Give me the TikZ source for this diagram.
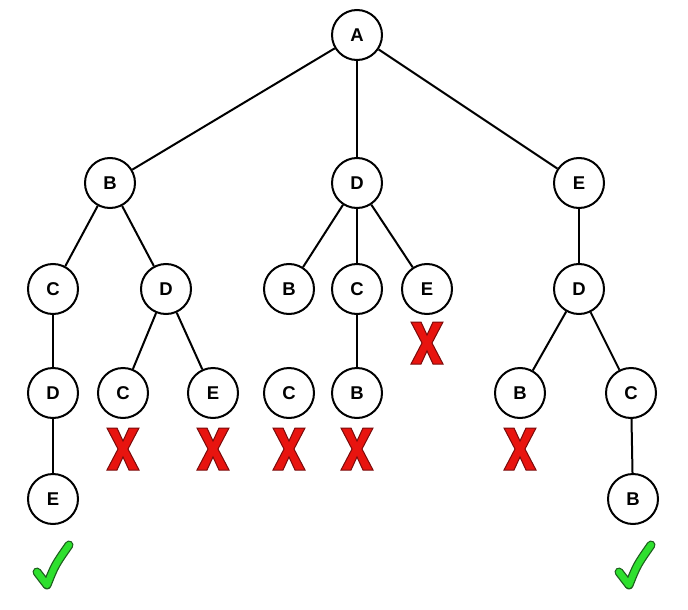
\documentclass[tikz,border=0pt]{standalone}
\usepackage{fontspec}
\setmainfont{Liberation Sans}
\definecolor{xred}{HTML}{E8140F}
\definecolor{xdark}{HTML}{7A0A0A}
\definecolor{okgreen}{HTML}{2EE02E}
\definecolor{okdark}{HTML}{1D5E1D}
\usetikzlibrary{positioning}

\begin{document}
\begin{tikzpicture}[
  x=1pt, y=-1pt,
  state/.style={
    draw=black, line width=2pt, circle, fill=white,
    minimum size=50pt, inner sep=0pt,
    font=\fontsize{18.5}{18.5}\selectfont\bfseries,
  },
  edge/.style={draw=black, line width=2pt},
  badmark/.pic={
    \filldraw[fill=xred, draw=xdark, line width=1pt]
      (-16,-21) -- (-6,-21) -- (0,-8) -- (6,-21) -- (16,-21) -- (5,0)
      -- (16,21) -- (6,21) -- (0,8) -- (-6,21) -- (-16,21) -- (-5,0) -- cycle;
  },
  goodmark/.pic={
    \draw[okdark, line width=9pt, line cap=round, line join=round]
      (-15,7) -- (-5,20) .. controls (3,0) .. (17,-20);
    \draw[okgreen, line width=6.5pt, line cap=round, line join=round]
      (-15,7) -- (-5,20) .. controls (3,0) .. (17,-20);
  },
]
\useasboundingbox (0,0) rectangle (688,610);

% level 0
\node[state] (nA) at (357,35) {A};

% level 1
\node[state] (nAB) at (110,183) {B};
\node[state] (nAD) at (357,183) {D};
\node[state] (nAE) at (579,183) {E};

% level 2
\node[state] (nABC) at (53,289)  {C};
\node[state] (nABD) at (166,289) {D};
\node[state] (nADB) at (289,289) {B};
\node[state] (nADC) at (357,289) {C};
\node[state] (nADE) at (427,289) {E};
\node[state] (nAED) at (579,289) {D};

% level 3
\node[state] (nABCD) at (53,393)  {D};
\node[state] (nABDC) at (123,393) {C};
\node[state] (nABDE) at (213,393) {E};
\node[state] (nADBC) at (289,393) {C};
\node[state] (nADCB) at (357,393) {B};
\node[state] (nAEDB) at (520,393) {B};
\node[state] (nAEDC) at (631,393) {C};

% level 4
\node[state] (nABCDE) at (53,499)  {E};
\node[state] (nAEDCB) at (633,499) {B};

% tree edges
\draw[edge] (nA) -- (nAB);
\draw[edge] (nA) -- (nAD);
\draw[edge] (nA) -- (nAE);
\draw[edge] (nAB) -- (nABC);
\draw[edge] (nAB) -- (nABD);
\draw[edge] (nAD) -- (nADB);
\draw[edge] (nAD) -- (nADC);
\draw[edge] (nAD) -- (nADE);
\draw[edge] (nAE) -- (nAED);
\draw[edge] (nABC) -- (nABCD);
\draw[edge] (nABD) -- (nABDC);
\draw[edge] (nABD) -- (nABDE);
\draw[edge] (nADC) -- (nADCB);
\draw[edge] (nAED) -- (nAEDB);
\draw[edge] (nAED) -- (nAEDC);
\draw[edge] (nABCD) -- (nABCDE);
\draw[edge] (nAEDC) -- (nAEDCB);

% dead ends
\pic at (123,449) {badmark};
\pic at (213,449) {badmark};
\pic at (289,449) {badmark};
\pic at (357,449) {badmark};
\pic at (427,343) {badmark};
\pic at (520,449) {badmark};

% complete paths
\pic at (52,565)  {goodmark};
\pic at (634,565) {goodmark};

\end{tikzpicture}
\end{document}
